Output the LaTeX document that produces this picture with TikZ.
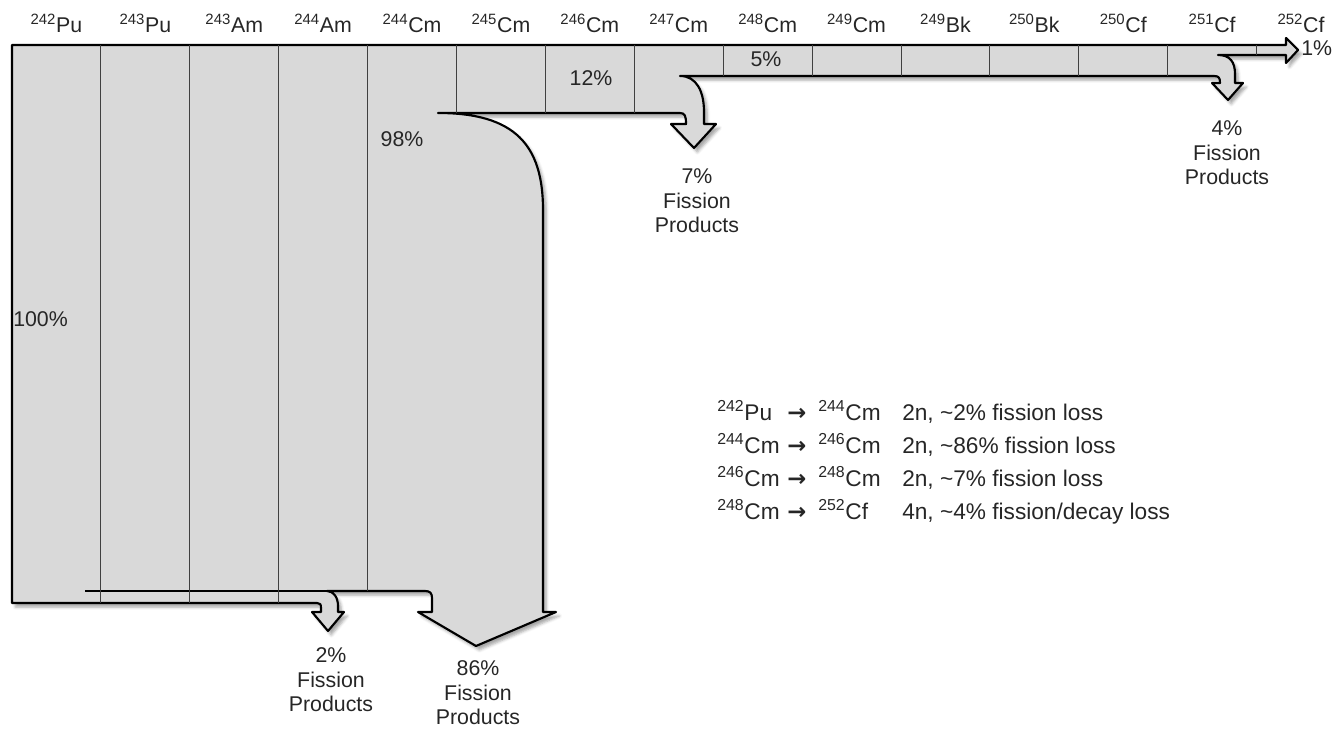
\documentclass[tikz,border=0pt]{standalone}
\usepackage{fontspec}
\setmainfont{Liberation Sans}
\newfontfamily\arrowfont{DejaVu Sans}
\usepackage{tikz}
\usetikzlibrary{shadows.blur}

\definecolor{flowgray}{RGB}{217,217,217}
\newcommand{\nuc}[2]{\textsuperscript{#1}#2}

\begin{document}
\begin{tikzpicture}[x=0.75pt, y=-0.75pt,
  flow/.style={fill=flowgray, draw=black, line width=1.6pt, line join=round,
    blur shadow={shadow xshift=2.5pt, shadow yshift=-3pt, shadow opacity=35}},
  split/.style={draw=black, line width=1.6pt},
  colline/.style={draw=black!75, line width=0.7pt},
  iso/.style={anchor=base, inner sep=0pt, text=black!85, font=\fontsize{16}{19}\selectfont},
  pct/.style={inner sep=0pt, text=black!85, font=\fontsize{16}{19}\selectfont},
  fp/.style={align=center, inner sep=0pt, text=black!85, font=\fontsize{16}{18.4}\selectfont},
  legend/.style={anchor=base west, inner sep=0pt, text=black!85, font=\fontsize{17}{20}\selectfont},
]
\useasboundingbox (0,0) rectangle (1339,731);

% the flow band with its fission branches
\path[flow] (12,45) -- (1286,45) -- (1286,38) -- (1298,50) -- (1286,63) -- (1286,55) -- (1218,55)
  .. controls (1230,55) and (1235,62) .. (1235,74) -- (1235,83) -- (1243,83) -- (1228,100) -- (1212,83) -- (1220,83)
  .. controls (1220,78) and (1219,76) .. (1214,76) -- (680,76)
  .. controls (697,76) and (704,92) .. (704,112) -- (704,124) -- (716,124) -- (694,148) -- (671,124) -- (686,124)
  .. controls (686,116) and (685,113) .. (680,113) -- (438,113)
  .. controls (515,113) and (543,145) .. (543,210) -- (543,612) -- (556,612) -- (476,646) -- (418,612) -- (432,612)
  -- (432,598) .. controls (432,593) and (430,591) .. (425,591) -- (327,591)
  .. controls (334,591) and (338,598) .. (338,606) -- (338,612) -- (344,612) -- (328,631) -- (312,612) -- (321,612)
  -- (321,608) .. controls (321,604) and (320,603) .. (317,603) -- (12,603) -- cycle;
\draw[split] (85,591) -- (327,591);

% column borders
\foreach \k/\yb in {1/603, 2/603, 3/603, 4/591, 5/113, 6/113, 7/113, 8/76, 9/76, 10/76, 11/76, 12/76, 13/76, 14/55}
  \draw[colline] ({12+88.9*\k},45) -- ({12+88.9*\k},\yb);

% nuclide headers
\foreach \m/\el [count=\i] in {242/Pu, 243/Pu, 243/Am, 244/Am, 244/Cm, 245/Cm, 246/Cm, 247/Cm,
    248/Cm, 249/Cm, 249/Bk, 250/Bk, 250/Cf, 251/Cf, 252/Cf}
  \node[iso] (h\i) at ({12+88.9*(\i-0.5)},33) {\nuc{\m}{\el}};

% percentages
\node[pct, anchor=west] (p100) at (13,319) {100\%};
\node[pct] (p98) at (402,139) {98\%};
\node[pct] (p12) at (591,78) {12\%};
\node[pct] (p5) at (766,59) {5\%};
\node[pct, anchor=west] (p1) at (1301,48) {1\%};

% fission products
\node[fp] (fp2) at (331,680) {2\%\\Fission\\Products};
\node[fp] (fp86) at (478,693) {86\%\\Fission\\Products};
\node[fp] (fp7) at (697,201) {7\%\\Fission\\Products};
\node[fp] (fp4) at (1227,153) {4\%\\Fission\\Products};

% legend
\node[legend] (r1a) at (717,420) {\nuc{242}{Pu}};
\node[legend] (r1b) at (787,420) {\arrowfont\bfseries →};
\node[legend] (r1c) at (818,420) {\nuc{244}{Cm}};
\node[legend] (r1d) at (902,420) {2n, \textasciitilde 2\% fission loss};
\node[legend] (r2a) at (717,453) {\nuc{244}{Cm}};
\node[legend] (r2b) at (787,453) {\arrowfont\bfseries →};
\node[legend] (r2c) at (818,453) {\nuc{246}{Cm}};
\node[legend] (r2d) at (902,453) {2n, \textasciitilde 86\% fission loss};
\node[legend] (r3a) at (717,486) {\nuc{246}{Cm}};
\node[legend] (r3b) at (787,486) {\arrowfont\bfseries →};
\node[legend] (r3c) at (818,486) {\nuc{248}{Cm}};
\node[legend] (r3d) at (902,486) {2n, \textasciitilde 7\% fission loss};
\node[legend] (r4a) at (717,519) {\nuc{248}{Cm}};
\node[legend] (r4b) at (787,519) {\arrowfont\bfseries →};
\node[legend] (r4c) at (818,519) {\nuc{252}{Cf}};
\node[legend] (r4d) at (902,519) {4n, \textasciitilde 4\% fission/decay loss};
\end{tikzpicture}
\end{document}
